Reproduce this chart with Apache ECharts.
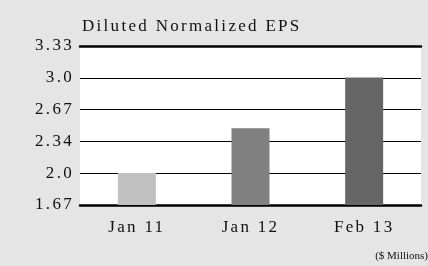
<!DOCTYPE html>
<html>
<head>
<meta charset="utf-8">
<script src="https://cdn.jsdelivr.net/npm/echarts@6/dist/echarts.min.js"></script>
<style>
  html, body { margin: 0; padding: 0; background: #e5e5e5; }
  #chart { width: 428px; height: 266px; }
</style>
</head>
<body>
<div id="chart"></div>
<script>
const categories = ['Jan 11', 'Jan 12', 'Feb 13'];
const epsValues = [2.0, 2.47, 3.0];
const barColors = ['#c0c0c0', '#808080', '#666666'];
const tickLabels = ['1.67', '2.0', '2.34', '2.67', '3.0', '3.33'];

// axis runs 1.665 .. 3.33 in 5 equal steps, labels
const yMin = 1.665, yMax = 3.33, yStep = 0.333;

// the original typesets with loose letter spacing; canvas can do that,
// echarts has no option for it, so set it on the context for the big text
(function () {
  const proto = CanvasRenderingContext2D.prototype;
  if (!('letterSpacing' in proto)) return;
  function spacing(ctx) {
    const m = /(\d+)px/.exec(ctx.font || '');
    ctx.letterSpacing = (m && +m[1] >= 14) ? '2.3px' : '0px';
  }
  const fill = proto.fillText, measure = proto.measureText;
  proto.fillText = function () { spacing(this); return fill.apply(this, arguments); };
  proto.measureText = function () { spacing(this); return measure.apply(this, arguments); };
})();

const font = '"Liberation Serif", "Times New Roman", serif';
const chart = echarts.init(document.getElementById('chart'));

chart.setOption({
  backgroundColor: '#e5e5e5',
  animation: false,
  title: {
    text: 'Diluted Normalized EPS',
    left: 77, top: 12,
    textStyle: { fontFamily: font, fontSize: 17, fontWeight: 'normal', color: '#111' }
  },
  graphic: [{
    type: 'text',
    right: 0, bottom: 4,
    style: { text: '($ Millions)', font: '11px ' + font, fill: '#111' }
  }],
  grid: {
    left: 80, right: 7, top: 46, bottom: 61,
    show: true, backgroundColor: '#fff', borderWidth: 0
  },
  xAxis: [{
    type: 'category',
    data: categories,
    axisLine: { lineStyle: { color: '#000', width: 2.5 } },
    axisTick: { show: false },
    axisLabel: { fontFamily: font, fontSize: 17, color: '#111', margin: 13 }
  }, {
    type: 'category',
    position: 'top',
    data: categories,
    axisLine: { lineStyle: { color: '#000', width: 2.5 } },
    axisTick: { show: false },
    axisLabel: { show: false }
  }],
  yAxis: {
    type: 'value',
    min: yMin, max: yMax, interval: yStep,
    axisLine: { show: false },
    axisTick: { show: false },
    splitLine: { lineStyle: { color: '#000', width: 1.2 } },
    axisLabel: {
      fontFamily: font, fontSize: 17, color: '#111', margin: 6,
      formatter: function (v) {
        return tickLabels[Math.round((v - yMin) / yStep)];
      }
    }
  },
  series: [{
    type: 'bar',
    barWidth: 38,
    data: epsValues.map(function (v, i) {
      return { value: v, itemStyle: { color: barColors[i] } };
    })
  }]
});
</script>
</body>
</html>
